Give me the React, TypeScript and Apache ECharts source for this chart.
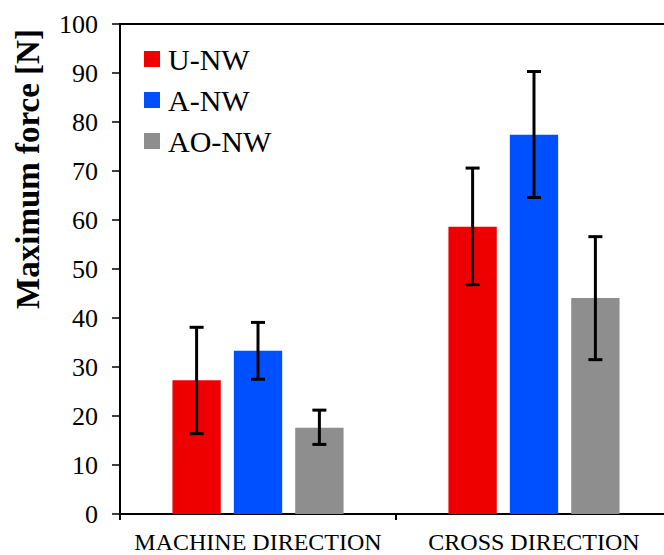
import React, { useEffect, useRef } from "react";
import * as echarts from "echarts";

const categories = ["MACHINE DIRECTION", "CROSS DIRECTION"];
const seriesNames = ["U-NW", "A-NW", "AO-NW"];
const seriesColors = ["#ee0000", "#0050ff", "#8e8e8e"];

// Mean maximum force [N] per direction
const uNw = [27.3, 58.6];
const aNw = [33.3, 77.4];
const aoNw = [17.6, 44.1];

// Error bar ends [N] (low, high) per direction
const uNwLow = [16.4, 46.8];
const uNwHigh = [38.1, 70.6];
const aNwLow = [27.5, 64.6];
const aNwHigh = [39.1, 90.3];
const aoNwLow = [14.2, 31.5];
const aoNwHigh = [21.2, 56.6];

const yTicks = [0, 10, 20, 30, 40, 50, 60, 70, 80, 90, 100];
const yTitle = "Maximum force [N]";

const CAT_GAP = 0.38;
const BAR_GAP = 0.27;
const FONT = "'Liberation Serif', 'Times New Roman', serif";

export default function App() {
  const ref = useRef<HTMLDivElement>(null);

  useEffect(() => {
    if (!ref.current) return;
    const chart = echarts.init(ref.current, undefined, { renderer: "svg" });

    const means = [uNw, aNw, aoNw];
    const lows = [uNwLow, aNwLow, aoNwLow];
    const highs = [uNwHigh, aNwHigh, aoNwHigh];

    const errData: number[][] = [];
    for (let s = 0; s < 3; s++) {
      for (let c = 0; c < categories.length; c++) {
        errData.push([c, lows[s][c], highs[s][c], s]);
      }
    }

    const barSeries = seriesNames.map((name, i) => ({
      name,
      type: "bar",
      data: means[i],
      barCategoryGap: `${CAT_GAP * 100}%`,
      barGap: `${BAR_GAP * 100}%`,
      itemStyle: { color: seriesColors[i] },
    }));

    chart.setOption({
      animation: false,
      grid: {
        left: 120,
        right: 8,
        top: 24,
        bottom: 41,
        show: true,
        borderColor: "#000",
        borderWidth: 2,
        backgroundColor: "transparent",
      },
      legend: {
        data: seriesNames,
        orient: "vertical",
        left: 144,
        top: 44,
        padding: 0,
        itemWidth: 16,
        itemHeight: 16,
        itemGap: 11,
        icon: "rect",
        textStyle: {
          fontFamily: FONT,
          fontSize: 30,
          color: "#000",
          lineHeight: 30,
          padding: [0, 0, 0, 3],
        },
      },
      graphic: [
        {
          type: "text",
          x: 28,
          y: 169,
          rotation: Math.PI / 2,
          style: {
            text: yTitle,
            fontFamily: FONT,
            fontSize: 33,
            fontWeight: "bold",
            fill: "#000",
            align: "center",
            verticalAlign: "middle",
          },
        },
      ],
      xAxis: {
        type: "category",
        data: categories,
        axisLine: { lineStyle: { color: "#000", width: 2 } },
        axisTick: { show: true, length: 6, lineStyle: { color: "#000", width: 2 } },
        axisLabel: {
          interval: 0,
          fontFamily: FONT,
          fontSize: 24,
          color: "#000",
          margin: 16,
        },
      },
      yAxis: {
        type: "value",
        min: yTicks[0],
        max: yTicks[yTicks.length - 1],
        interval: 10,
        splitLine: { show: false },
        axisLine: { show: true, lineStyle: { color: "#000", width: 2 } },
        axisTick: { show: true, length: 8, lineStyle: { color: "#000", width: 1.5 } },
        axisLabel: {
          fontFamily: FONT,
          fontSize: 26,
          color: "#000",
          margin: 22,
        },
      },
      series: [
        ...barSeries,
        {
          type: "custom",
          name: "error",
          data: errData,
          encode: { x: 0, y: [1, 2] },
          z: 10,
          renderItem: (_params: any, api: any) => {
            const cat = api.value(0);
            const lo = api.value(1);
            const hi = api.value(2);
            const k = api.value(3);
            const band = api.size([1, 0])[0];
            const barW = (band * (1 - CAT_GAP)) / (3 + 2 * BAR_GAP);
            const off = (k - 1) * barW * (1 + BAR_GAP);
            const pHi = api.coord([cat, hi]);
            const pLo = api.coord([cat, lo]);
            const x = pHi[0] + off;
            const cap = 7;
            const style = { stroke: "#000", lineWidth: 3 };
            return {
              type: "group",
              children: [
                { type: "line", shape: { x1: x, y1: pHi[1], x2: x, y2: pLo[1] }, style },
                { type: "line", shape: { x1: x - cap, y1: pHi[1], x2: x + cap, y2: pHi[1] }, style },
                { type: "line", shape: { x1: x - cap, y1: pLo[1], x2: x + cap, y2: pLo[1] }, style },
              ],
            };
          },
        },
      ],
    });

    return () => chart.dispose();
  }, []);

  return (
    <div
      style={{
        position: "fixed",
        left: 0,
        top: 0,
        width: 664,
        height: 555,
        overflow: "hidden",
        background: "#fff",
      }}
    >
      <div ref={ref} style={{ width: 680, height: 555 }} />
    </div>
  );
}
